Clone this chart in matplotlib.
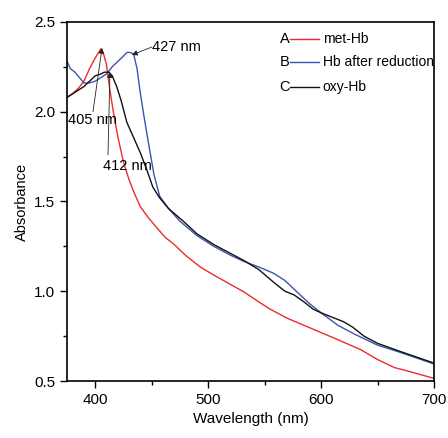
import matplotlib.pyplot as plt
from matplotlib.lines import Line2D

plt.rcParams['font.family'] = ['Liberation Sans', 'DejaVu Sans']

# met-Hb (A)
wl_red = [375, 380, 385, 390, 395, 400, 403, 405, 407, 410, 413, 416, 420, 425, 430, 435, 440,
          447, 455, 462, 470, 480, 493, 505, 515, 532, 545, 555, 570, 585, 600, 615, 635, 650,
          665, 680, 700]
abs_red = [2.08, 2.10, 2.13, 2.17, 2.24, 2.30, 2.33, 2.35, 2.33, 2.26, 2.12, 2.00, 1.86, 1.72,
           1.62, 1.54, 1.47, 1.41, 1.35, 1.30, 1.26, 1.20, 1.135, 1.09, 1.055, 0.995, 0.94, 0.90,
           0.85, 0.81, 0.77, 0.73, 0.675, 0.62, 0.575, 0.55, 0.515]

# Hb after reduction (B)
wl_blue = [375, 378, 382, 386, 390, 395, 400, 405, 410, 415, 420, 425, 428, 431, 434, 437, 440,
           443, 447, 452, 457, 465, 475, 490, 505, 520, 532, 545, 558, 568, 578, 590, 600, 615,
           630, 650, 670, 700]
abs_blue = [2.28, 2.24, 2.22, 2.19, 2.16, 2.16, 2.17, 2.19, 2.21, 2.25, 2.28, 2.31, 2.33, 2.33,
            2.32, 2.24, 2.10, 1.98, 1.83, 1.65, 1.53, 1.46, 1.39, 1.31, 1.25, 1.20, 1.165, 1.135,
            1.10, 1.06, 1.00, 0.93, 0.88, 0.81, 0.76, 0.70, 0.66, 0.595]

# oxy-Hb (C)
wl_black = [375, 380, 385, 390, 395, 400, 405, 408, 412, 415, 419, 423, 428, 433, 440, 446, 451,
            457, 465, 478, 490, 505, 520, 532, 545, 558, 568, 576, 585, 593, 600, 610, 620, 628,
            638, 650, 670, 700]
abs_black = [2.08, 2.10, 2.12, 2.14, 2.17, 2.20, 2.21, 2.22, 2.22, 2.20, 2.14, 2.06, 1.94, 1.87,
             1.77, 1.67, 1.58, 1.52, 1.46, 1.39, 1.32, 1.26, 1.21, 1.17, 1.12, 1.05, 1.00, 0.98,
             0.94, 0.90, 0.88, 0.855, 0.83, 0.80, 0.75, 0.71, 0.665, 0.60]

letters = ["A", "B", "C"]
labels = ["met-Hb", "Hb after reduction", "oxy-Hb"]
colors = ["#ee2b2b", "#3a55b0", "#111111"]

fig = plt.figure(figsize=(4.48, 4.38), dpi=100)
ax = fig.add_axes([0.1496, 0.130, 0.8192, 0.820])

ax.plot(wl_red, abs_red, color=colors[0], lw=1.0)
ax.plot(wl_blue, abs_blue, color=colors[1], lw=1.0)
ax.plot(wl_black, abs_black, color=colors[2], lw=1.0)

ax.set_xlim(375, 700)
ax.set_ylim(0.5, 2.5)
ax.set_xticks([400, 500, 600, 700])
ax.set_xticks([450, 550, 650], minor=True)
ax.set_yticks([0.5, 1.0, 1.5, 2.0, 2.5])
ax.set_yticks([0.75, 1.25, 1.75, 2.25], minor=True)
ax.tick_params(direction='out', length=5, width=1, labelsize=11)
ax.tick_params(which='minor', direction='out', length=3, width=1)
for s in ax.spines.values():
    s.set_linewidth(1.2)

ax.set_xlabel("Wavelength (nm)", fontsize=11)
ax.set_ylabel("Absorbance", fontsize=10.5)

arrow = dict(arrowstyle='-|>', color='#222222', lw=0.6, mutation_scale=8, shrinkA=0, shrinkB=0)
ax.annotate("", xy=(432.5, 2.316), xytext=(450, 2.36), arrowprops=arrow)
ax.text(450.5, 2.36, "427 nm", fontsize=10.5, va='center', ha='left')
ax.annotate("", xy=(406, 2.355), xytext=(398, 2.0), arrowprops=arrow)
ax.text(375.8, 1.954, "405 nm", fontsize=10.5, va='center', ha='left')
ax.annotate("", xy=(413, 2.22), xytext=(411.3, 1.76), arrowprops=arrow)
ax.text(406.9, 1.698, "412 nm", fontsize=10.5, va='center', ha='left')

# legend: letter, line, label
ys = [0.953, 0.888, 0.818]
for letter, lab, c, y in zip(letters, labels, colors, ys):
    ax.text(0.607, y, letter, transform=ax.transAxes, fontsize=10.5, va='center', ha='right')
    ax.add_line(Line2D([0.607, 0.686], [y, y], transform=ax.transAxes, color=c, lw=1.0))
    ax.text(0.697, y, lab, transform=ax.transAxes, fontsize=10, va='center', ha='left')

fig.savefig("out.png", dpi=100)
